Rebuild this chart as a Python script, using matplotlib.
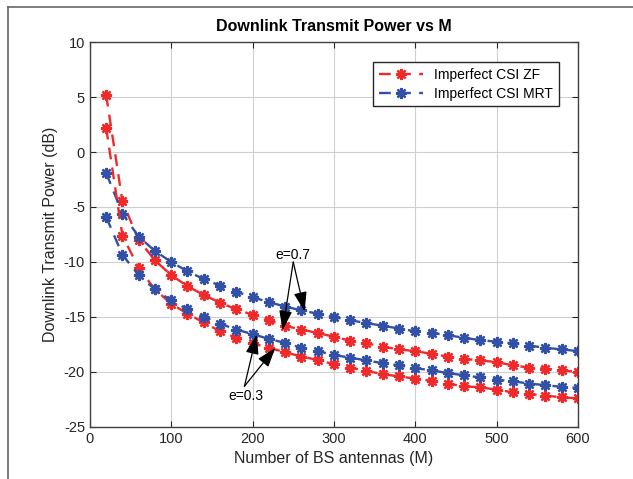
import matplotlib
matplotlib.use("Agg")
import matplotlib.pyplot as plt
from matplotlib.lines import Line2D

plt.rcParams['font.family'] = ['Liberation Sans', 'DejaVu Sans']
plt.rcParams['axes.unicode_minus'] = False

M = list(range(20, 601, 20))

zf_e07 = [5.2, -4.5, -8.0, -9.85, -11.2, -12.2, -13.0, -13.7, -14.3, -14.8,
          -15.3, -15.8, -16.15, -16.45, -16.8, -17.15, -17.4, -17.7, -17.95, -18.1,
          -18.35, -18.6, -18.8, -18.95, -19.1, -19.4, -19.6, -19.7, -19.85, -20.0]
zf_e03 = [2.2, -7.6, -10.55, -12.5, -13.8, -14.7, -15.5, -16.3, -16.9, -17.4,
          -17.8, -18.2, -18.6, -18.9, -19.3, -19.6, -19.9, -20.2, -20.4, -20.6,
          -20.8, -21.05, -21.3, -21.4, -21.6, -21.85, -22.0, -22.15, -22.3, -22.4]
mrt_e07 = [-1.9, -5.6, -7.7, -9.0, -10.0, -10.85, -11.55, -12.15, -12.7, -13.2,
           -13.65, -14.05, -14.4, -14.7, -15.0, -15.3, -15.55, -15.8, -16.05, -16.3,
           -16.45, -16.65, -16.9, -17.1, -17.25, -17.4, -17.6, -17.8, -17.95, -18.1]
mrt_e03 = [-5.9, -9.35, -11.2, -12.5, -13.5, -14.3, -15.0, -15.6, -16.15, -16.55,
           -17.0, -17.35, -17.8, -18.1, -18.45, -18.7, -18.95, -19.2, -19.4, -19.65,
           -19.85, -20.1, -20.3, -20.5, -20.7, -20.85, -21.05, -21.2, -21.35, -21.45]

RED = "#f02a2a"
BLUE = "#3150a6"
ASTER = (8, 2, 0)

fig = plt.figure(figsize=(6.33, 4.79), dpi=100)
ax = fig.add_axes([0.142, 0.1086, 0.771, 0.8037])

# frame around the figure like the original export
fig.add_artist(Line2D([8/633, 8/633], [0, 1 - 7/479], color="#666666", lw=1.2))
fig.add_artist(Line2D([8/633, 1], [1 - 7/479, 1 - 7/479], color="#666666", lw=1.2))

style = dict(linestyle="--", linewidth=1.7, marker=ASTER, markersize=8, markeredgewidth=1.7,
             dashes=(5, 3.5))
ax.plot(M, zf_e07, color=RED, label="Imperfect CSI ZF", **style)
ax.plot(M, mrt_e07, color=BLUE, label="Imperfect CSI MRT", **style)
ax.plot(M, zf_e03, color=RED, **style)
ax.plot(M, mrt_e03, color=BLUE, **style)

ax.set_xlim(0, 600)
ax.set_ylim(-25, 10)
ax.set_xticks(range(0, 601, 100))
ax.set_yticks(range(-25, 11, 5))
ax.grid(True, color="#d0d0d0", linewidth=0.8)
ax.set_axisbelow(True)
ax.tick_params(direction="in", top=True, right=True, labelsize=10.5, colors="#262626", length=4)
for s in ax.spines.values():
    s.set_color("#404040")
    s.set_linewidth(1.0)

ax.set_title("Downlink Transmit Power vs M", fontsize=11.5, fontweight="bold", pad=8)
ax.set_xlabel("Number of BS antennas (M)", fontsize=11.5, color="#262626")
ax.set_ylabel("Downlink Transmit Power (dB)", fontsize=11.5, color="#262626")

leg = ax.legend(loc="upper right", bbox_to_anchor=(0.975, 0.965), fontsize=10, fancybox=False,
                framealpha=1, edgecolor="#262626", handlelength=3.2, borderpad=0.4,
                labelspacing=0.35)
leg.get_frame().set_linewidth(1.0)

arrow = dict(arrowstyle="-|>,head_length=1.2,head_width=0.4", color="black", lw=0.9,
             shrinkA=0, shrinkB=0)
ax.text(249, -9.35, "e=0.7", fontsize=10, ha="center", va="center")
ax.annotate("", xy=(237, -16.2), xytext=(250, -10.0), arrowprops=arrow)
ax.annotate("", xy=(264, -14.5), xytext=(250, -10.0), arrowprops=arrow)
ax.text(192, -22.2, "e=0.3", fontsize=10, ha="center", va="center")
ax.annotate("", xy=(205, -16.6), xytext=(190, -21.3), arrowprops=arrow)
ax.annotate("", xy=(228, -17.8), xytext=(190, -21.3), arrowprops=arrow)

fig.savefig("out.png", dpi=100)
